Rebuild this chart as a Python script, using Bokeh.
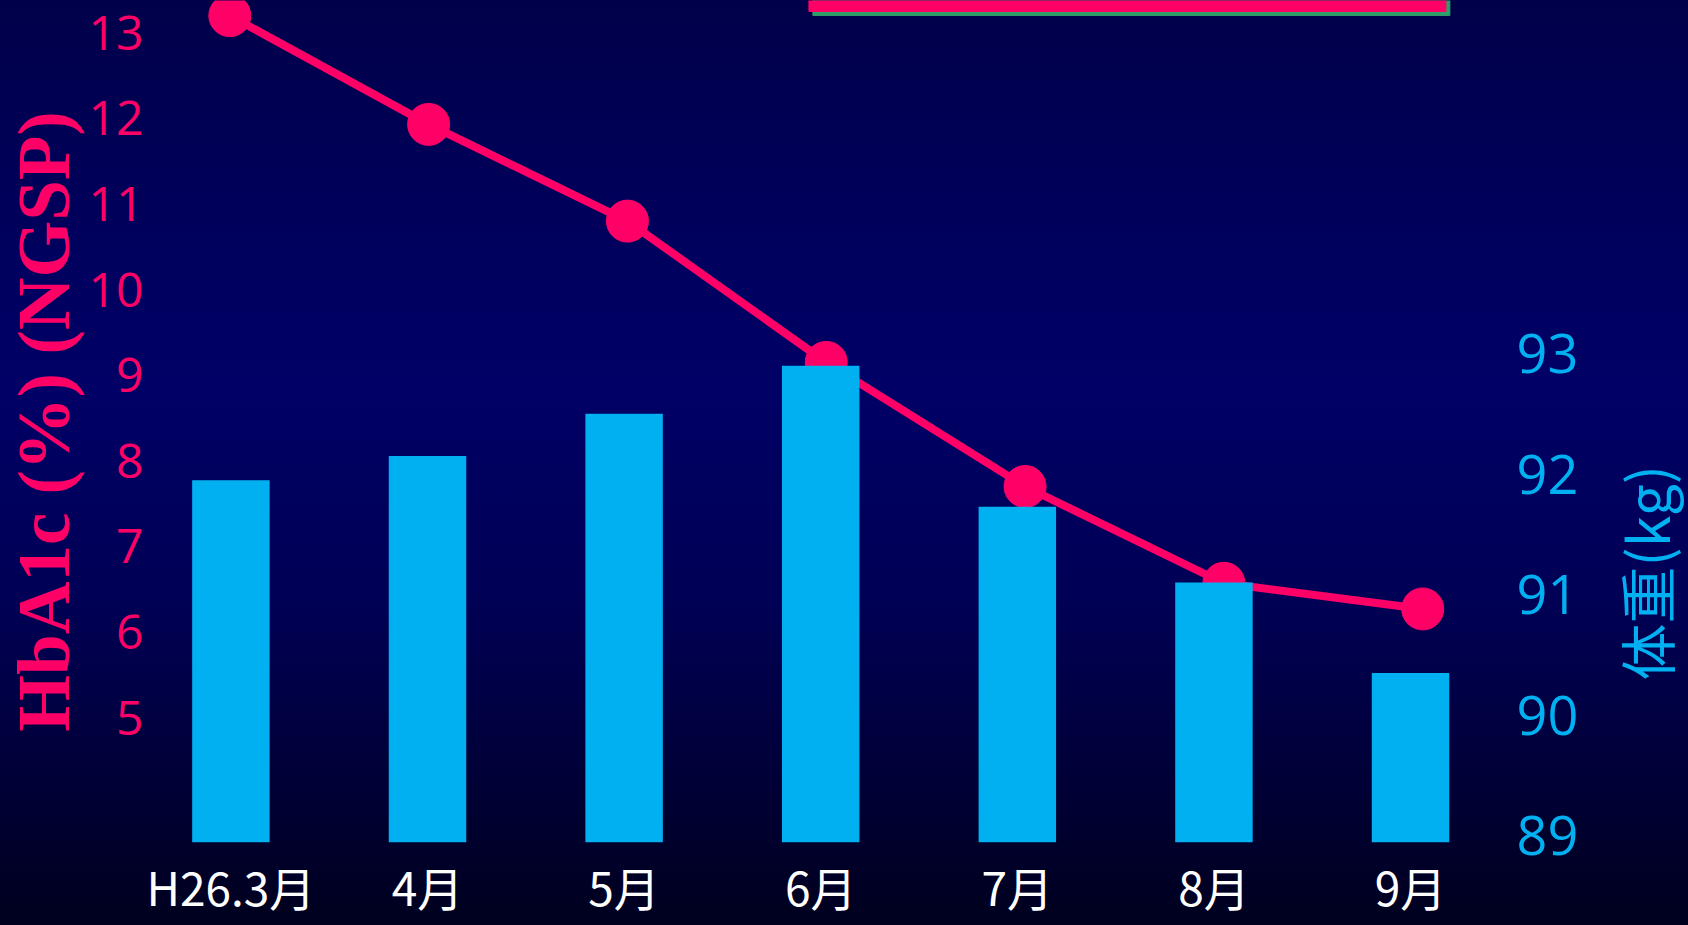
import math
from bokeh.plotting import figure
from bokeh.layouts import row
from bokeh.models import Range1d, LinearAxis, FixedTicker, GlobalInlineStyleSheet, Label
from bokeh.embed import file_html
from bokeh.resources import INLINE

# ---- data ----
months = ["H26.3月", "4月", "5月", "6月", "7月", "8月", "9月"]
hba1c = [13.2, 11.93, 10.8, 9.15, 7.7, 6.57, 6.27]          # HbA1c (%) NGSP
weight = [91.95, 92.15, 92.5, 92.9, 91.73, 91.1, 90.35]      # 体重 (kg)
hba1c_ticks = [5, 6, 7, 8, 9, 10, 11, 12, 13]
weight_ticks = [89, 90, 91, 92, 93]
treatment_period = [2.94, 6.18]                                # pink bar at the top

idx = list(range(len(months)))

PINK = "#FF0066"
CYAN = "#00B0F0"

hb_range = Range1d(3.542, 13.377)
w_range = Range1d(88.944, 95.929)

p = figure(width=1588, height=925, output_backend="svg", toolbar_location=None,
           x_range=Range1d(-0.3733, 6.483), y_range=hb_range,
           min_border_left=157, min_border_right=83, min_border_top=0,
           min_border_bottom=83,
           background_fill_alpha=0, border_fill_alpha=0, outline_line_color=None)
p.extra_y_ranges = {"w": w_range}
p.extra_x_ranges = {"line": Range1d(-0.3637, 6.4165)}
p.grid.visible = False

p.stylesheets = [GlobalInlineStyleSheet(css=(
    "html{background:linear-gradient(to bottom,#00004a 0%,#000060 30%,"
    "#000066 42%,#000055 65%,#000036 85%,#00001e 100%);}"
    "body{background:transparent;}"))]

# top treatment bar (shadow + bar)
p.quad(left=[treatment_period[0] + 0.02], right=[treatment_period[1] + 0.02],
       bottom=[13.202], top=[13.6], color="#2E9E6A")
p.quad(left=[treatment_period[0]], right=[treatment_period[1]],
       bottom=[13.249], top=[13.6], color=PINK)

# HbA1c line
p.line(idx, hba1c, line_color=PINK, line_width=8, x_range_name="line")
p.scatter(idx, hba1c, size=42, fill_color=PINK, line_color=PINK, x_range_name="line")

# weight bars
p.vbar(x=idx, top=weight, bottom=w_range.start, width=0.394, fill_color=CYAN,
       line_color=None, y_range_name="w")

# x axis
xa = p.xaxis[0]
xa.ticker = FixedTicker(ticks=idx)
xa.major_label_overrides = {i: m for i, m in zip(idx, months)}
xa.axis_line_color = None
xa.major_tick_line_color = None
xa.minor_tick_line_color = None
xa.major_label_text_color = "white"
xa.major_label_text_font = "Noto Sans CJK JP"
xa.major_label_text_font_size = "46px"
xa.major_label_standoff = 4

# left axis
ya = p.yaxis[0]
ya.ticker = FixedTicker(ticks=hba1c_ticks)
ya.axis_line_color = None
ya.major_tick_line_color = None
ya.minor_tick_line_color = None
ya.major_label_text_color = PINK
ya.major_label_text_font = "Open Sans"
ya.major_label_text_font_size = "48px"
ya.major_label_standoff = 8
ya.axis_label = "HbA1c (%) (NGSP)"
ya.axis_label_text_font = "Liberation Serif"
ya.axis_label_text_font_style = "bold"
ya.axis_label_text_font_size = "73px"
ya.axis_label_text_color = PINK
ya.axis_label_standoff = 1

# right axis (weight ticks)
ra = LinearAxis(y_range_name="w", ticker=FixedTicker(ticks=weight_ticks))
ra.axis_line_color = None
ra.major_tick_line_color = None
ra.minor_tick_line_color = None
ra.major_label_text_color = CYAN
ra.major_label_text_font = "Open Sans"
ra.major_label_text_font_size = "54px"
ra.major_label_standoff = 5
p.add_layout(ra, "right")

# narrow companion figure carrying the weight-axis title (reads bottom-to-top)
p2 = figure(width=100, height=925, output_backend="svg", toolbar_location=None,
            x_range=Range1d(0, 1), y_range=Range1d(0, 1),
            min_border_left=0, min_border_right=0, min_border_top=0,
            min_border_bottom=83,
            background_fill_alpha=0, border_fill_alpha=0, outline_line_color=None)
p2.grid.visible = False
p2.axis.visible = False
p2.add_layout(Label(x=0.56, y=0.321, text="体重(kg)", angle=math.pi / 2,
                    text_align="center", text_baseline="middle",
                    text_font="Noto Sans CJK JP", text_font_size="57px",
                    text_color=CYAN))

layout = row(p, p2, spacing=0)

open("out.html", "w").write(file_html(layout, INLINE))
